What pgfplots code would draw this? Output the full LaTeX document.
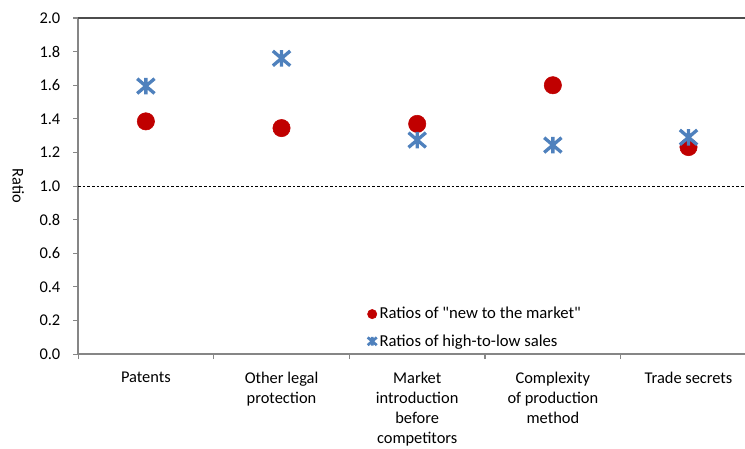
\documentclass[border=0pt]{standalone}
\usepackage{pgfplots}
\pgfplotsset{compat=1.18}
\usepackage{fontspec}
\setmainfont{Carlito}
\definecolor{myred}{RGB}{192,0,0}
\definecolor{myblue}{RGB}{79,129,189}
\definecolor{axgray}{RGB}{134,134,134}
\pgfdeclareplotmark{xstar}{%
  \pgfpathmoveto{\pgfqpoint{-\pgfplotmarksize}{-0.85\pgfplotmarksize}}%
  \pgfpathlineto{\pgfqpoint{\pgfplotmarksize}{0.85\pgfplotmarksize}}%
  \pgfpathmoveto{\pgfqpoint{-\pgfplotmarksize}{0.85\pgfplotmarksize}}%
  \pgfpathlineto{\pgfqpoint{\pgfplotmarksize}{-0.85\pgfplotmarksize}}%
  \pgfpathmoveto{\pgfqpoint{0pt}{-0.95\pgfplotmarksize}}%
  \pgfpathlineto{\pgfqpoint{0pt}{0.95\pgfplotmarksize}}%
  \pgfusepathqstroke}
\begin{document}
\begin{tikzpicture}
\begin{axis}[
  scale only axis,
  width=508.5pt, height=252pt,
  xmin=-0.5, xmax=4.5, ymin=0, ymax=2,
  axis x line*=bottom, axis y line*=left,
  axis line style={draw=axgray, line width=1pt},
  xtick={-0.5,0.5,1.5,2.5,3.5,4.5},
  x tick label as interval,
  xticklabels={Patents,{Other legal\\protection},{Market\\introduction\\before\\competitors},{Complexity\\of production\\method},Trade secrets},
  x tick label style={align=center, font=\fontsize{12.3}{15}\selectfont, yshift=-6pt},
  ytick={0,0.2,...,2.01},
  y tick label style={font=\fontsize{12.3}{14}\selectfont, xshift=-6pt},
  /pgf/number format/.cd, fixed, fixed zerofill, precision=1, assume math mode=true,
  /pgfplots/.cd,
  tick align=outside,
  major tick length=3.75pt,
  tick style={draw=axgray, line width=0.8pt},
  ylabel={Ratio},
  every axis y label/.style={at={(axis description cs:-0.088,0.5)}, rotate=-90, anchor=center, font=\fontsize{12.3}{14}\selectfont},
  legend style={draw=none, fill=none, at={(0.4205,0.156)}, anchor=north west,
    font=\fontsize{12.5}{14}\selectfont, row sep=6.2pt, legend cell align=left,
    /tikz/every even column/.append style={column sep=0pt}},
  legend image code/.code={\draw[#1] plot coordinates {(0.1cm,0cm)};},
  clip=false,
]
\draw[black!70, line width=1pt] (rel axis cs:0,1) -- (rel axis cs:1,1);
\draw[black, dashed, dash pattern=on 2pt off 1.5pt, line width=0.6pt] (axis cs:-0.5,1) -- (axis cs:4.5,1);
\addplot[only marks, mark=*, mark size=6.5pt, color=myred, mark options={fill=myred, draw=myred},
  legend image post style={mark size=3.5pt}]
  coordinates {(0,1.385) (1,1.345) (2,1.37) (3,1.60) (4,1.232)};
\addlegendentry{Ratios of \textquotedbl new to the market\textquotedbl}
\addplot[only marks, mark=xstar, mark size=6.5pt, color=myblue, mark options={line width=2.5pt, draw=myblue},
  legend image post style={mark size=3.4pt, mark options={line width=2pt}}]
  coordinates {(0,1.595) (1,1.76) (2,1.274) (3,1.244) (4,1.29)};
\addlegendentry{Ratios of high-to-low sales}
\end{axis}
\pgfresetboundingbox
\useasboundingbox (-58.5pt,-70.5pt) rectangle (500pt,265.5pt);
\end{tikzpicture}
\end{document}
